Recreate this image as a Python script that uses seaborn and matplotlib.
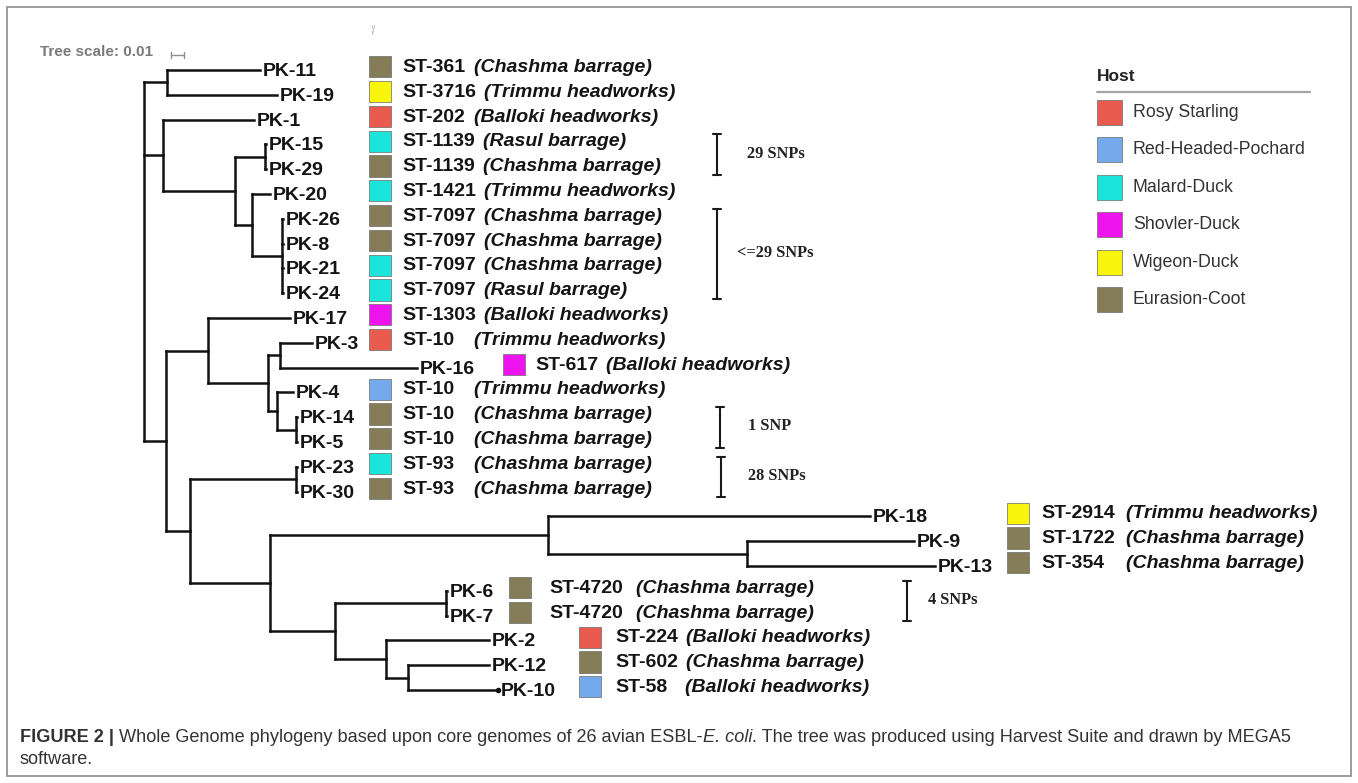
import re
import matplotlib
matplotlib.use("Agg")
import matplotlib.pyplot as plt
from matplotlib import font_manager
from matplotlib.patches import Rectangle
from matplotlib.collections import LineCollection
import pandas as pd
import seaborn as sns

# core-genome tree (branch lengths in substitutions/site)
newick = ("((PK-11:0.0715,PK-19:0.0846):0.0177,"
          "(PK-1:0.0700,((PK-15:0.0008,PK-29:0.0008):0.0231,"
          "(PK-20:0.0138,(PK-26:0.0008,PK-8:0.0008,PK-21:0.0008,PK-24:0.0008):0.0231):0.0131):0.0554):0.0146,"
          "((PK-17:0.0631,((PK-3:0.0246,PK-16:0.1054):0.0092,"
          "(PK-4:0.0123,(PK-14:0.0008,PK-5:0.0008):0.0146):0.0069):0.0462):0.0323,"
          "((PK-23:0.0008,PK-30:0.0008):0.0815,"
          "((PK-18:0.2477,(PK-9:0.1285,PK-13:0.1446):0.1531):0.2138,"
          "((PK-6:0.0008,PK-7:0.0008):0.0854,(PK-2:0.0792,(PK-12:0.0623,PK-10:0.0692):0.0169):0.0392):0.0500)"
          ":0.0615):0.0185):0.0169);")

isolates = ["PK-11", "PK-19", "PK-1", "PK-15", "PK-29", "PK-20", "PK-26", "PK-8", "PK-21",
            "PK-24", "PK-17", "PK-3", "PK-16", "PK-4", "PK-14", "PK-5", "PK-23", "PK-30",
            "PK-18", "PK-9", "PK-13", "PK-6", "PK-7", "PK-2", "PK-12", "PK-10"]
hosts = ["Eurasion-Coot", "Wigeon-Duck", "Rosy Starling", "Malard-Duck", "Eurasion-Coot",
         "Malard-Duck", "Eurasion-Coot", "Eurasion-Coot", "Malard-Duck", "Malard-Duck",
         "Shovler-Duck", "Rosy Starling", "Shovler-Duck", "Red-Headed-Pochard", "Eurasion-Coot",
         "Eurasion-Coot", "Malard-Duck", "Eurasion-Coot", "Wigeon-Duck", "Eurasion-Coot",
         "Eurasion-Coot", "Eurasion-Coot", "Eurasion-Coot", "Rosy Starling", "Eurasion-Coot",
         "Red-Headed-Pochard"]
sequence_types = ["ST-361", "ST-3716", "ST-202", "ST-1139", "ST-1139", "ST-1421", "ST-7097",
                  "ST-7097", "ST-7097", "ST-7097", "ST-1303", "ST-10", "ST-617", "ST-10", "ST-10",
                  "ST-10", "ST-93", "ST-93", "ST-2914", "ST-1722", "ST-354", "ST-4720", "ST-4720",
                  "ST-224", "ST-602", "ST-58"]
sites = ["Chashma barrage", "Trimmu headworks", "Balloki headworks", "Rasul barrage",
         "Chashma barrage", "Trimmu headworks", "Chashma barrage", "Chashma barrage",
         "Chashma barrage", "Rasul barrage", "Balloki headworks", "Trimmu headworks",
         "Balloki headworks", "Trimmu headworks", "Chashma barrage", "Chashma barrage",
         "Chashma barrage", "Chashma barrage", "Trimmu headworks", "Chashma barrage",
         "Chashma barrage", "Chashma barrage", "Chashma barrage", "Balloki headworks",
         "Chashma barrage", "Balloki headworks"]

host_order = ["Rosy Starling", "Red-Headed-Pochard", "Malard-Duck", "Shovler-Duck",
              "Wigeon-Duck", "Eurasion-Coot"]
host_colors = ["#EA5B4F", "#74AAEB", "#1BE5DA", "#EE14EE", "#F8F40C", "#857D57"]

snp_from = ["PK-15", "PK-26", "PK-14", "PK-23", "PK-6"]
snp_to = ["PK-29", "PK-24", "PK-5", "PK-30", "PK-7"]
snp_labels = ["29 SNPs", "<=29 SNPs", "1 SNP", "28 SNPs", "4 SNPs"]

# ---------------------------------------------------------------- layout
W, H = 1358, 783
ROOT_PX, PX_PER_UNIT = 144, 1300.0   # 0.01 subst/site ~ 13 px
ROW0_PX, ROW_PX = 70, 24.8


def px(x):
    return (x - ROOT_PX) / PX_PER_UNIT


def py(y):
    return (y - ROW0_PX) / ROW_PX


# label blocks: square centre, ST start, site column (pixels)
blocks = {"main": (380, 402, 474), "pk16": (514, 535, 605), "far": (1018, 1041, 1126),
          "pk67": (520, 549, 636), "pk2": (590, 615, 685)}
block_of = {"PK-16": "pk16", "PK-18": "far", "PK-9": "far", "PK-13": "far",
            "PK-6": "pk67", "PK-7": "pk67", "PK-2": "pk2", "PK-12": "pk2", "PK-10": "pk2"}
bracket_px = [717, 717, 720, 721, 907]
snp_text_px = [747, 737, 748, 748, 928]


def parse(s):
    pos = 0

    def node():
        nonlocal pos
        kids = []
        if s[pos] == "(":
            pos += 1
            while True:
                kids.append(node())
                if s[pos] == ",":
                    pos += 1
                    continue
                pos += 1
                break
        name = re.match(r"[^:,();]*", s[pos:]).group(0)
        pos += len(name)
        length = 0.0
        if s[pos] == ":":
            m = re.match(r":([0-9.eE+-]+)", s[pos:])
            length = float(m.group(1))
            pos += len(m.group(0))
        return {"name": name, "len": length, "children": kids}

    return node()


root = parse(newick)
leaves = []


def place(n, depth):
    n["x"] = depth + n["len"]
    if n["children"]:
        for c in n["children"]:
            place(c, n["x"])
        n["y"] = (n["children"][0]["y"] + n["children"][-1]["y"]) / 2
    else:
        n["y"] = len(leaves)
        leaves.append(n)


place(root, 0.0)
segs = []


def collect(n):
    if not n["children"]:
        return
    segs.append([(n["x"], n["children"][0]["y"]), (n["x"], n["children"][-1]["y"])])
    for c in n["children"]:
        segs.append([(n["x"], c["y"]), (c["x"], c["y"])])
        collect(c)


collect(root)
tip = {l["name"]: l for l in leaves}


def has_font(name):
    try:
        font_manager.findfont(font_manager.FontProperties(family=name), fallback_to_default=False)
        return True
    except Exception:
        return False


sns.set_theme(style="white")
plt.rcParams["font.family"] = ["Liberation Sans", "DejaVu Sans"]
cap_family = ["Liberation Sans Narrow"] if has_font("Liberation Sans Narrow") else ["Liberation Sans"]

fig = plt.figure(figsize=(W / 100, H / 100), dpi=100)
ax = fig.add_axes([0, 0, 1, 1])
ax.axis("off")


def fix_limits():
    ax.set_xlim(px(0), px(W))
    ax.set_ylim(py(H), py(0))


ax.add_collection(LineCollection(segs, colors="#111111", linewidths=1.8, capstyle="projecting"))
ax.plot(tip["PK-10"]["x"], tip["PK-10"]["y"], "o", ms=3, color="#111111")

df = pd.DataFrame({"isolate": isolates, "host": hosts, "st": sequence_types, "site": sites})
df["row"] = [tip[i]["y"] for i in isolates]
df["block"] = [block_of.get(i, "main") for i in isolates]
df["sq_x"] = [px(blocks[b][0]) for b in df["block"]]
df["sq_y"] = df["row"] - 0.13

sns.scatterplot(data=df, x="sq_x", y="sq_y", hue="host", hue_order=host_order,
                palette=host_colors, marker="s", s=235, edgecolor="#6a6a6a", linewidth=0.5,
                legend=False, ax=ax, zorder=3)
fix_limits()

renderer = fig.canvas.get_renderer()
lab_kw = dict(fontsize=14, fontweight="bold", color="#141414", va="center", ha="left")
for _, r in df.iterrows():
    t = tip[r["isolate"]]
    ax.text(t["x"] + 2.5 / PX_PER_UNIT, t["y"] + 0.06, r["isolate"], **lab_kw)
    sq, stx, col = blocks[r["block"]]
    st = ax.text(px(stx), r["row"] - 0.1, r["st"], **lab_kw)
    x1 = st.get_window_extent(renderer).x1
    ax.text(px(max(col, x1 + 8)), r["row"] - 0.1, "(" + r["site"] + ")",
            fontstyle="italic", **lab_kw)

# SNP brackets
cap = 4 / PX_PER_UNIT
for a, b, lab, bx, tx in zip(snp_from, snp_to, snp_labels, bracket_px, snp_text_px):
    y0, y1 = tip[a]["y"] - 0.4, tip[b]["y"] + 0.23
    x = px(bx)
    ax.plot([x, x], [y0, y1], color="#1a1a1a", lw=1.5)
    ax.plot([x - cap, x + cap], [y0, y0], color="#1a1a1a", lw=1.5)
    ax.plot([x - cap, x + cap], [y1, y1], color="#1a1a1a", lw=1.5)
    ax.text(px(tx), (tip[a]["y"] + tip[b]["y"]) / 2 - 0.13, lab, family=["Liberation Serif"],
            fontweight="bold", fontsize=11.8, color="#222222", va="center", ha="left")

# tree scale
ax.text(px(40), py(52), "Tree scale: 0.01", fontsize=11, fontweight="bold", color="#7a7a7a",
        va="center", ha="left")
sb0 = px(171)
ax.plot([sb0, sb0 + 0.01], [py(55)] * 2, color="#909090", lw=1)
for xx in (sb0, sb0 + 0.01):
    ax.plot([xx, xx], [py(52), py(58)], color="#909090", lw=1)
ax.text(px(370), py(30), "¦/", fontsize=7, color="#b0b0b0", va="center", ha="left")

# host legend
ax.text(px(1097), py(77), "Host", fontsize=12.5, fontweight="bold", color="#222222",
        va="center", ha="left")
ax.plot([px(1097), px(1310)], [py(92)] * 2, color="#a5a5a5", lw=1.6)
leg = pd.DataFrame({"host": host_order})
leg["x"] = px(1109.5)
leg["y"] = [py(112.5 + 37.4 * k) for k in range(len(host_order))]
sns.scatterplot(data=leg, x="x", y="y", hue="host", hue_order=host_order, palette=host_colors,
                marker="s", s=324, edgecolor="#6a6a6a", linewidth=0.5, legend=False, ax=ax, zorder=3)
for _, r in leg.iterrows():
    ax.text(px(1133), r["y"], r["host"], fontsize=12.8, color="#333333", va="center", ha="left")

fix_limits()
ax.set_xlabel("")
ax.set_ylabel("")

# frame
fig.patches.append(Rectangle((7 / W, 1 - 776 / H), (1351 - 7) / W, (776 - 7) / H,
                             transform=fig.transFigure, fill=False, edgecolor="#8c8c8c", lw=1.2))

# caption
runs = [("FIGURE 2 |", "bold", "normal"),
        (" Whole Genome phylogeny based upon core genomes of 26 avian ESBL-", "normal", "normal"),
        ("E. coli", "normal", "italic"),
        (". The tree was produced using Harvest Suite and drawn by MEGA5", "normal", "normal")]


def draw_caption(size):
    objs, x = [], 20
    for txt, wt, st in runs:
        t = fig.text(x / W, 1 - 738 / H, txt, fontsize=size, fontweight=wt, fontstyle=st,
                     family=cap_family, color="#333333", va="center", ha="left")
        x = t.get_window_extent(renderer).x1
        objs.append(t)
    return objs, x


objs, x_end = draw_caption(13)
size = 13 * (1288 - 20) / (x_end - 20)
for o in objs:
    o.remove()
draw_caption(size)
fig.text(20 / W, 1 - 760 / H, "software.", fontsize=size, family=cap_family, color="#333333",
         va="center", ha="left")

fig.savefig("out.png", dpi=100)
